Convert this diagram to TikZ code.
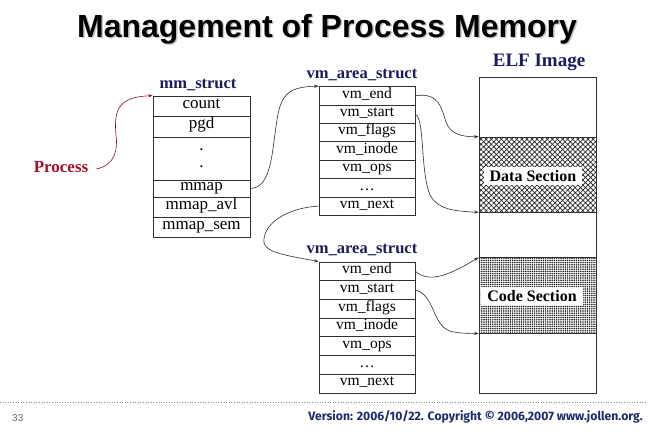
\documentclass[tikz,border=0pt]{standalone}
\usepackage{fontspec}
\setmainfont{Liberation Serif}
\newfontfamily\titlefont{Liberation Sans}
\newfontfamily\footfont{Fira Sans}
\usetikzlibrary{arrows.meta,patterns.meta,calc}

\definecolor{navy}{HTML}{1C1C5C}
\definecolor{procred}{HTML}{A3122B}
\definecolor{linec}{HTML}{303030}
\definecolor{footblue}{HTML}{1E2A6E}

\newcommand\fsz[1]{\fontsize{#1}{#1}\selectfont}

\tikzset{
  boxline/.style={draw=linec, line width=0.8pt},
  mmrow/.style={boxline, minimum width=97pt, inner sep=0pt,
    text height=0.68em, text depth=0.2em, font=\fsz{17}},
  vmrow/.style={boxline, minimum width=96pt, minimum height=18.4pt, inner sep=0pt,
    text height=0.68em, text depth=0.2em, font=\fsz{15.5}},
  structlabel/.style={font=\fsz{16.5}\bfseries, text=navy, inner sep=0pt},
  seclabel/.style={fill=white, inner xsep=6pt, inner ysep=3pt, font=\fsz{16}\bfseries},
  link/.style={draw=linec, line width=0.6pt, -{Stealth[length=4.5pt,width=3.2pt]}},
}

\begin{document}
\begin{tikzpicture}[x=1pt,y=-1pt]
\useasboundingbox (0,0) rectangle (650,432);
\fill[white] (0,0) rectangle (650,432);

% title with a soft drop shadow
\node[anchor=base, font=\titlefont\bfseries\fsz{32}, text=black!22] (titleshadow) at (328.5,38.5) {Management of Process Memory};
\node[anchor=base, font=\titlefont\bfseries\fsz{32}] (title) at (327,37) {Management of Process Memory};

% mm_struct
\node[structlabel] (mmlabel) at (198,85) {mm\_struct};
\node[mmrow, minimum height=20pt] (mmcount) at (201.5,106)   {count};
\node[mmrow, minimum height=21pt] (mmpgd)   at (201.5,126.5) {pgd};
\node[mmrow, minimum height=43pt] (mmdots)  at (201.5,158.5) {};
\node[font=\fsz{17}, inner sep=0pt] (dotA) at (201.5,150) {.};
\node[font=\fsz{17}, inner sep=0pt] (dotB) at (201.5,167) {.};
\node[mmrow, minimum height=17pt] (mmmap)   at (201.5,188.5) {mmap};
\node[mmrow, minimum height=20pt] (mmavl)   at (201.5,207)   {mmap\_avl};
\node[mmrow, minimum height=20pt] (mmsem)   at (201.5,227)   {mmap\_sem};

% Process
\node[font=\fsz{17}\bfseries, text=procred, inner sep=0pt] (proc) at (61,167.5) {Process};

% first vm_area_struct
\node[structlabel] (vmlabelA) at (362,75) {vm\_area\_struct};
\foreach \t [count=\i] in {vm\_end,vm\_start,vm\_flags,vm\_inode,vm\_ops,\dots,vm\_next}
  \node[vmrow] (a\i) at (367,{86.5+(\i-0.5)*18.4}) {\t};

% second vm_area_struct
\node[structlabel] (vmlabelB) at (362,250) {vm\_area\_struct};
\foreach \t [count=\i] in {vm\_end,vm\_start,vm\_flags,vm\_inode,vm\_ops,\dots,vm\_next}
  \node[vmrow, minimum height=18.7pt] (b\i) at (367,{262+(\i-0.5)*18.7}) {\t};

% ELF image
\node[font=\fsz{19}\bfseries, text=navy, inner sep=0pt] (elflabel) at (539,62) {ELF Image};
\node[boxline, minimum width=117pt, minimum height=316pt, inner sep=0pt] (elf) at (537.5,235) {};
\node[boxline, minimum width=117pt, minimum height=75pt, inner sep=0pt,
      pattern={Hatch[angle=45,distance=3.6pt,line width=0.7pt]}, pattern color=black!85] (data) at (537.5,174.5) {};
\node[boxline, minimum width=117pt, minimum height=75.5pt, inner sep=0pt,
      pattern={Dots[distance=2.2pt,radius=0.85pt]}, pattern color=black!90] (code) at (537.5,295.5) {};
\node[seclabel, minimum width=97pt] (datalabel) at (533,176) {Data Section};
\node[seclabel, minimum width=96pt] (codelabel) at (532,296) {Code Section};

% connectors
\draw[link, draw=procred!85!black] ($(proc.east)+(8,1.5)$)
  .. controls (115,165) and (118,150) .. (116,135)
  .. controls (113,106) and (122,97) .. (mmcount.north west);
\draw[link] (mmmap.east)
  .. controls (272,188) and (272,150) .. (277,120)
  .. controls (281,92) and (291,87) .. (a1.north west);
\draw[link] (a7.west)
  .. controls (285,208) and (262,225) .. (264,243)
  .. controls (266,253) and (290,256) .. (b1.north west);
\draw[link] (a1.east)
  .. controls (440,92) and (442,110) .. (446,122)
  .. controls (450,133) and (460,137) .. (data.north west);
\draw[link] (a2.east)
  .. controls (425,120) and (420,170) .. (430,195)
  .. controls (438,210) and (455,211) .. (data.south west);
\draw[link] (b1.east)
  .. controls (428,282) and (445,278) .. (code.north west);
\draw[link] (b2.east)
  .. controls (435,295) and (432,325) .. (450,331)
  .. controls (460,334) and (470,333) .. (code.south west);

% footer
\coordinate (ruleL) at (0,402);
\coordinate (ruleR) at (646,402);
\draw[black!45, line width=0.6pt, dotted] (ruleL) -- (ruleR);
\node[anchor=base west, font=\titlefont\fsz{10}, text=black!60, inner sep=0pt] (pageno) at (12,421) {33};
\node[anchor=base east, font=\footfont\bfseries\fsz{12.2}, text=footblue, inner sep=0pt] (footer) at (643,420)
  {Version: 2006/10/22. Copyright © 2006,2007 www.jollen.org.};
\end{tikzpicture}
\end{document}
